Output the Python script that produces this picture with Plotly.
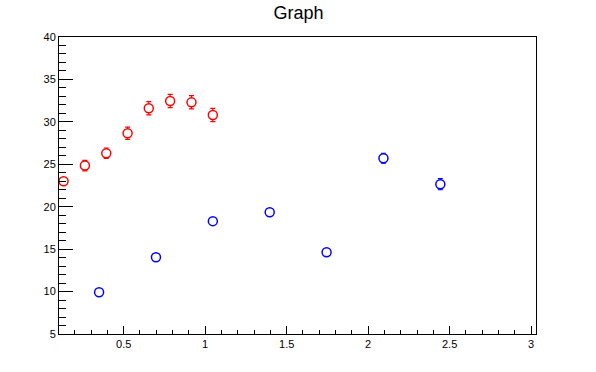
import math
import plotly.graph_objects as go

# Red series
red_x = [0.131, 0.262, 0.393, 0.524, 0.654, 0.785, 0.916, 1.047]
red_y = [23.0, 24.85, 26.3, 28.65, 31.6, 32.45, 32.3, 30.8]
red_err = [0.4, 0.62, 0.62, 0.72, 0.78, 0.78, 0.78, 0.78]

# Blue series
blue_x = [0.349, 0.698, 1.047, 1.396, 1.745, 2.094, 2.443]
blue_y = [9.92, 14.05, 18.3, 19.35, 14.63, 25.72, 22.65]
blue_err = [0.3, 0.3, 0.3, 0.3, 0.3, 0.58, 0.65]

x_range = [0.103, 3.03]
y_range = [5, 40]

fig = go.Figure()

def add_series(xs, ys, errs, color):
    fig.add_trace(go.Scatter(
        x=xs, y=ys, mode="markers",
        marker=dict(symbol="circle", size=9, color="white",
                    line=dict(color=color, width=1.5)),
        error_y=dict(type="data", array=errs, visible=True,
                     color=color, thickness=1.2, width=2.5),
        showlegend=False,
    ))

add_series(red_x, red_y, red_err, "#ff0000")
add_series(blue_x, blue_y, blue_err, "#0000ff")

axis_common = dict(
    showgrid=False, zeroline=False, showline=True, linecolor="black",
    linewidth=1, mirror=True, ticks="inside", tickcolor="black",
    tickwidth=1,
    tickfont=dict(family="Liberation Sans, Arial, sans-serif", size=11,
                  color="black"),
)

fig.update_xaxes(range=x_range, tick0=0, dtick=0.5, ticklen=8,
                 minor=dict(dtick=0.1, ticklen=4, ticks="inside",
                            tickcolor="black", showgrid=False),
                 **axis_common)
fig.update_yaxes(range=y_range, tick0=0, dtick=5, ticklen=14,
                 minor=dict(dtick=1, ticklen=7, ticks="inside",
                            tickcolor="black", showgrid=False),
                 **axis_common)

fig.update_layout(
    width=596, height=372,
    margin=dict(l=59, r=60, t=37, b=38),
    paper_bgcolor="white", plot_bgcolor="white",
    title=dict(text="Graph", x=0.501, xanchor="center",
               y=0.965, yanchor="middle",
               font=dict(family="Liberation Sans, Arial, sans-serif",
                         size=18, color="black")),
)

fig.write_html("out.html",
               config={"displayModeBar": False},
               post_script="document.body.style.margin='0';")
